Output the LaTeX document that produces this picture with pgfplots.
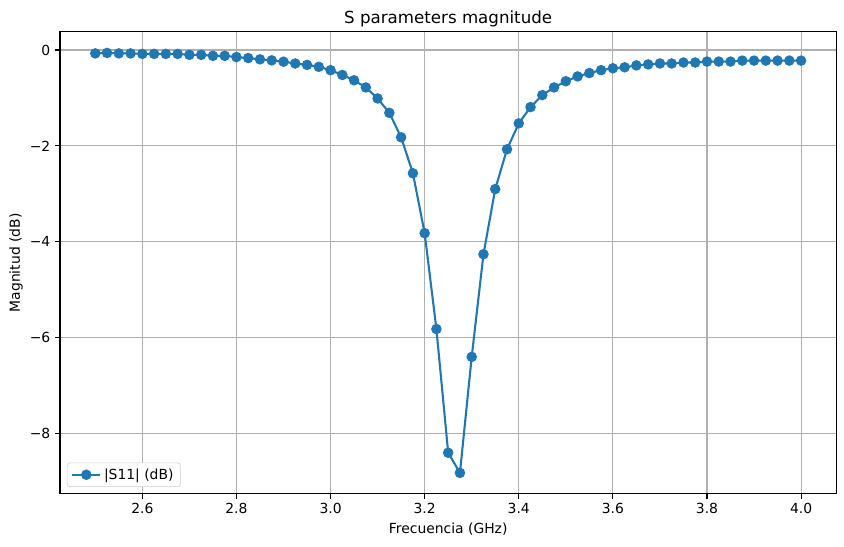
\documentclass[border=0pt]{standalone}
\usepackage{fontspec}
\setmainfont{DejaVu Sans}
\usepackage{pgfplots}
\pgfplotsset{compat=1.18}
\definecolor{mplblue}{HTML}{1F77B4}
\definecolor{mplgrid}{HTML}{B0B0B0}
\begin{document}
\begin{tikzpicture}
\begin{axis}[
  scale only axis,
  width=559pt, height=332.6pt,
  xmin=2.425, xmax=4.075,
  ymin=-9.258, ymax=0.378,
  xtick={2.6,2.8,3.0,3.2,3.4,3.6,3.8,4.0},
  xticklabels={2.6,2.8,3.0,3.2,3.4,3.6,3.8,4.0},
  ytick={-8,-6,-4,-2,0},
  yticklabels={−8,−6,−4,−2,0},
  xtick pos=lower, ytick pos=left,
  tick align=outside,
  major tick length=3.5pt,
  tick style={black, line width=0.8pt},
  axis line style={black, line width=0.8pt},
  grid=major,
  major grid style={mplgrid, line width=0.8pt},
  tick label style={font=\fontsize{10}{12}\selectfont},
  title={S parameters magnitude},
  title style={at={(axis description cs:0.5,1)}, anchor=base, font=\fontsize{12}{14}\selectfont},
  xlabel={Frecuencia (GHz)},
  ylabel={Magnitud (dB)},
  x label style={at={(axis description cs:0.5,-0.0758)}, anchor=center, font=\fontsize{10}{12}\selectfont},
  y label style={at={(axis description cs:-0.0567,0.5)}, anchor=center, font=\fontsize{10}{12}\selectfont},
  legend style={at={(axis description cs:0,0)}, anchor=south west, xshift=5pt, yshift=5pt,
    draw=black!20, rounded corners=2pt, font=\fontsize{10}{12}\selectfont,
    inner xsep=3pt, inner ysep=2pt},
  legend cell align=left,
  legend image code/.code={\draw[#1, mark repeat=2, mark phase=2] plot coordinates {(0pt,0pt) (10pt,0pt) (20pt,0pt)};},
]
\addplot[color=mplblue, line width=1.5pt, mark=*, mark size=3pt, mark options={fill=mplblue, draw=mplblue}] coordinates {
(2.500,-0.07) (2.525,-0.06) (2.550,-0.07) (2.575,-0.07) (2.600,-0.08)
(2.625,-0.08) (2.650,-0.08) (2.675,-0.08) (2.700,-0.10) (2.725,-0.10)
(2.750,-0.12) (2.775,-0.12) (2.800,-0.146) (2.825,-0.167) (2.850,-0.194)
(2.875,-0.215) (2.900,-0.243) (2.925,-0.28) (2.950,-0.31) (2.975,-0.35)
(3.000,-0.42) (3.025,-0.52) (3.050,-0.63) (3.075,-0.78) (3.100,-1.01)
(3.125,-1.31) (3.150,-1.82) (3.175,-2.57) (3.200,-3.82) (3.225,-5.82)
(3.250,-8.40) (3.275,-8.82) (3.300,-6.40) (3.325,-4.26) (3.350,-2.90)
(3.375,-2.07) (3.400,-1.53) (3.425,-1.19) (3.450,-0.94) (3.475,-0.78)
(3.500,-0.65) (3.525,-0.55) (3.550,-0.48) (3.575,-0.42) (3.600,-0.38)
(3.625,-0.36) (3.650,-0.32) (3.675,-0.30) (3.700,-0.28) (3.725,-0.28)
(3.750,-0.26) (3.775,-0.26) (3.800,-0.24) (3.825,-0.24) (3.850,-0.24)
(3.875,-0.22) (3.900,-0.22) (3.925,-0.22) (3.950,-0.22) (3.975,-0.22)
(4.000,-0.22)
};
\addlegendentry{|S11| (dB)}
\end{axis}
\path[use as bounding box] (current axis.south west) ++(-43.2pt,-38.2pt) rectangle ++(607.7pt,393.8pt);
\end{tikzpicture}
\end{document}
